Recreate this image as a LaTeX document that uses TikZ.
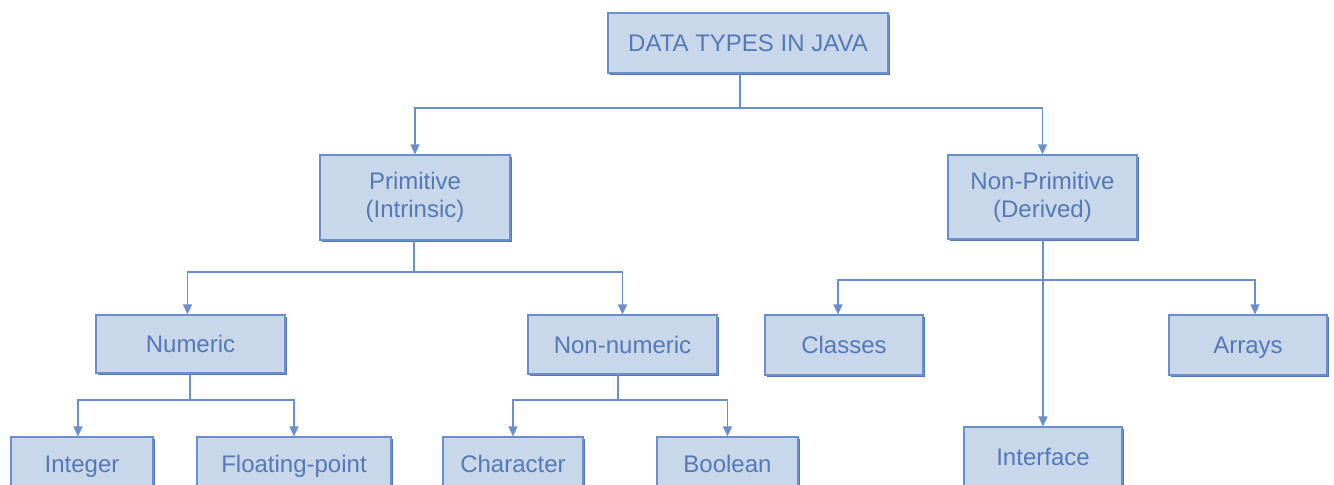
\documentclass[tikz,border=0pt]{standalone}
\usepackage{fontspec}
\setmainfont{Liberation Sans}
\usetikzlibrary{arrows.meta,shadows}
\definecolor{boxfill}{HTML}{C9D7EB}
\definecolor{boxedge}{HTML}{6A8FCA}
\definecolor{boxshade}{HTML}{5479B8}
\definecolor{boxtext}{HTML}{5579B4}
\definecolor{wire}{HTML}{6A8FCA}
\tikzset{
  typebox/.style={draw=boxedge, line width=0.6pt, fill=boxfill, text=boxtext,
    font=\fontsize{12}{14}\selectfont, align=center, inner sep=0pt,
    drop shadow={shadow xshift=1.1pt, shadow yshift=-1.1pt, fill=boxshade, opacity=1}},
  oneline/.style={typebox, text height=8.6pt, text depth=0pt},
  wireline/.style={draw=wire, line width=0.7pt},
  wirearrow/.style={wireline, -{Triangle[length=5pt,width=4.5pt]}}
}
\begin{document}
\begin{tikzpicture}[x=0.5pt,y=-0.5pt]
\path[use as bounding box] (0,0) rectangle (1334,484);
\clip (0,0) rectangle (1334,484);

% boxes
\node[oneline, minimum width=140pt, minimum height=30pt] (top) at (748,43) {DATA TYPES IN JAVA};
\node[typebox, minimum width=95pt, minimum height=42.5pt] (prim) at (415,197.5) {Primitive\\(Intrinsic)};
\node[typebox, minimum width=94.5pt, minimum height=42pt] (nonprim) at (1042.5,197) {Non-Primitive\\(Derived)};
\node[oneline, minimum width=94.5pt, minimum height=29pt] (numeric) at (190.5,344) {Numeric};
\node[oneline, minimum width=94.5pt, minimum height=29.5pt] (nonnum) at (622.5,344.5) {Non-numeric};
\node[oneline, minimum width=79pt, minimum height=30pt] (classes) at (844,345) {Classes};
\node[oneline, minimum width=79pt, minimum height=30pt] (arrays) at (1248,345) {Arrays};
\node[oneline, minimum width=71pt, minimum height=27pt] (integer) at (82,464) {Integer};
\node[oneline, minimum width=97pt, minimum height=27pt] (float) at (294,464) {Floating-point};
\node[oneline, minimum width=70pt, minimum height=27pt] (character) at (513,464) {Character};
\node[oneline, minimum width=70.5pt, minimum height=27pt] (boolean) at (727.5,464) {Boolean};
\node[oneline, minimum width=79pt, minimum height=30pt] (interface) at (1043,457) {Interface};

% junction points
\coordinate (j0) at (740,108);
\coordinate (j1) at (414,272);
\coordinate (j2) at (190,400);
\coordinate (j3) at (618,400);
\coordinate (j4) at (1043,280);

% level 1
\draw[wireline] (top.south -| j0) -- (j0);
\draw[wirearrow] (j0) -| (prim.north);
\draw[wirearrow] (j0) -| (nonprim.north);

% primitive branch
\draw[wireline] (prim.south -| j1) -- (j1);
\draw[wirearrow] (j1) -| ([xshift=-1.5pt]numeric.north);
\draw[wirearrow] (j1) -| (nonnum.north);

\draw[wireline] (numeric.south -| j2) -- (j2);
\draw[wirearrow] (j2) -| ([xshift=-2pt]integer.north);
\draw[wirearrow] (j2) -| (float.north);

\draw[wireline] (nonnum.south -| j3) -- (j3);
\draw[wirearrow] (j3) -| (character.north);
\draw[wirearrow] (j3) -| (boolean.north);

% non-primitive branch
\draw[wirearrow] (nonprim.south -| j4) -- (interface.north);
\draw[wirearrow] (j4) -| ([xshift=-3pt]classes.north);
\draw[wirearrow] (j4) -| ([xshift=3.5pt]arrays.north);
\end{tikzpicture}
\end{document}
